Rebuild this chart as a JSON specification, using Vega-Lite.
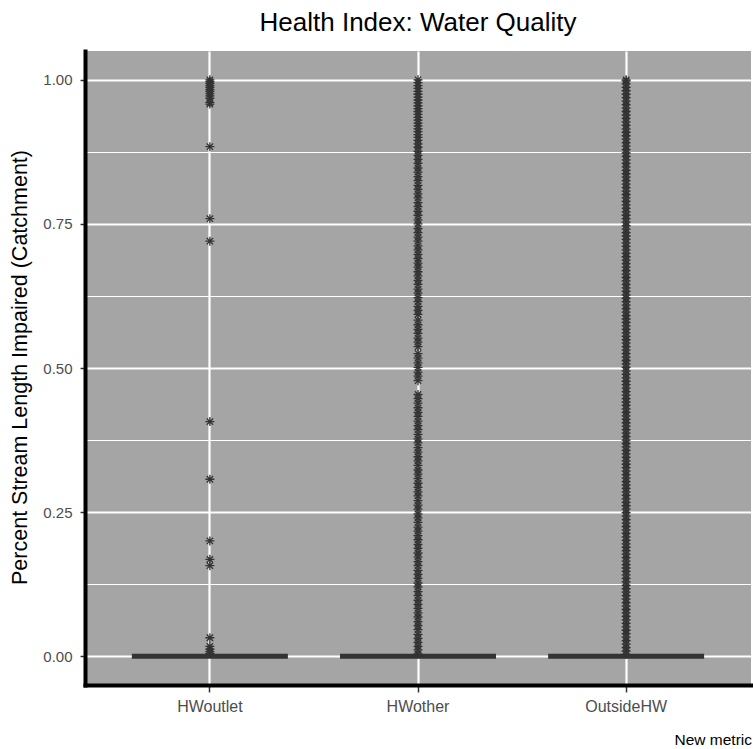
{
  "$schema": "https://vega.github.io/schema/vega-lite/v6.json",
  "width": 666,
  "height": 634,
  "autosize": {"type": "none"},
  "padding": {"left": 85, "top": 51, "right": 2, "bottom": 64},
  "background": "white",
  "title": {"text": "Health Index: Water Quality", "fontSize": 26, "font": "Liberation Sans", "fontWeight": "normal", "color": "black", "frame": "group", "anchor": "middle", "baseline": "alphabetic", "offset": -6},
  "config": {
    "font": "Liberation Sans",
    "view": {"fill": "#A5A5A5", "stroke": null},
    "axis": {"domainColor": "black", "domainWidth": 4, "domainCap": "square", "tickColor": "#333333", "tickWidth": 1.5, "labelColor": "#4D4D4D", "titleColor": "black", "titleFontWeight": "normal", "gridColor": "white", "labelFont": "Liberation Sans", "titleFont": "Liberation Sans"}
  },
  "datasets": {
    "boxes": [
      {"metric": "HWoutlet", "lower": 0, "median": 0, "upper": 0},
      {"metric": "HWother", "lower": 0, "median": 0, "upper": 0},
      {"metric": "OutsideHW", "lower": 0, "median": 0, "upper": 0}
    ],
    "outliers": [
      {"metric":"HWoutlet","value":1.0},{"metric":"HWoutlet","value":0.997},{"metric":"HWoutlet","value":0.994},{"metric":"HWoutlet","value":0.99},{"metric":"HWoutlet","value":0.987},{"metric":"HWoutlet","value":0.983},{"metric":"HWoutlet","value":0.98},{"metric":"HWoutlet","value":0.976},{"metric":"HWoutlet","value":0.972},{"metric":"HWoutlet","value":0.968},{"metric":"HWoutlet","value":0.961},{"metric":"HWoutlet","value":0.958},{"metric":"HWoutlet","value":0.884},{"metric":"HWoutlet","value":0.759},{"metric":"HWoutlet","value":0.72},{"metric":"HWoutlet","value":0.407},{"metric":"HWoutlet","value":0.307},{"metric":"HWoutlet","value":0.2},{"metric":"HWoutlet","value":0.168},{"metric":"HWoutlet","value":0.157},{"metric":"HWoutlet","value":0.032},{"metric":"HWoutlet","value":0.017},{"metric":"HWoutlet","value":0.012},{"metric":"HWoutlet","value":0.008},{"metric":"HWoutlet","value":0.005},
      {"metric":"HWother","value":0.004},{"metric":"HWother","value":0.011},{"metric":"HWother","value":0.017},{"metric":"HWother","value":0.024},{"metric":"HWother","value":0.031},{"metric":"HWother","value":0.038},{"metric":"HWother","value":0.046},{"metric":"HWother","value":0.053},{"metric":"HWother","value":0.06},{"metric":"HWother","value":0.068},{"metric":"HWother","value":0.075},{"metric":"HWother","value":0.083},{"metric":"HWother","value":0.09},{"metric":"HWother","value":0.097},{"metric":"HWother","value":0.105},{"metric":"HWother","value":0.112},{"metric":"HWother","value":0.12},{"metric":"HWother","value":0.127},{"metric":"HWother","value":0.135},{"metric":"HWother","value":0.142},{"metric":"HWother","value":0.149},{"metric":"HWother","value":0.157},{"metric":"HWother","value":0.164},{"metric":"HWother","value":0.172},{"metric":"HWother","value":0.179},{"metric":"HWother","value":0.187},{"metric":"HWother","value":0.194},{"metric":"HWother","value":0.202},{"metric":"HWother","value":0.209},{"metric":"HWother","value":0.217},{"metric":"HWother","value":0.224},{"metric":"HWother","value":0.232},{"metric":"HWother","value":0.24},{"metric":"HWother","value":0.247},{"metric":"HWother","value":0.255},{"metric":"HWother","value":0.262},{"metric":"HWother","value":0.27},{"metric":"HWother","value":0.278},{"metric":"HWother","value":0.285},{"metric":"HWother","value":0.293},{"metric":"HWother","value":0.3},{"metric":"HWother","value":0.308},{"metric":"HWother","value":0.316},{"metric":"HWother","value":0.323},{"metric":"HWother","value":0.331},{"metric":"HWother","value":0.339},{"metric":"HWother","value":0.346},{"metric":"HWother","value":0.354},{"metric":"HWother","value":0.362},{"metric":"HWother","value":0.37},{"metric":"HWother","value":0.377},{"metric":"HWother","value":0.385},{"metric":"HWother","value":0.393},{"metric":"HWother","value":0.4},{"metric":"HWother","value":0.408},{"metric":"HWother","value":0.416},{"metric":"HWother","value":0.423},{"metric":"HWother","value":0.431},{"metric":"HWother","value":0.439},{"metric":"HWother","value":0.447},{"metric":"HWother","value":0.454},
      {"metric":"HWother","value":0.478},{"metric":"HWother","value":0.486},{"metric":"HWother","value":0.493},{"metric":"HWother","value":0.501},{"metric":"HWother","value":0.509},{"metric":"HWother","value":0.517},{"metric":"HWother","value":0.525},
      {"metric":"HWother","value":0.537},{"metric":"HWother","value":0.545},{"metric":"HWother","value":0.552},{"metric":"HWother","value":0.56},{"metric":"HWother","value":0.567},{"metric":"HWother","value":0.575},{"metric":"HWother","value":0.583},
      {"metric":"HWother","value":0.593},{"metric":"HWother","value":0.6},{"metric":"HWother","value":0.607},{"metric":"HWother","value":0.615},{"metric":"HWother","value":0.622},{"metric":"HWother","value":0.63},{"metric":"HWother","value":0.637},{"metric":"HWother","value":0.645},{"metric":"HWother","value":0.652},{"metric":"HWother","value":0.66},{"metric":"HWother","value":0.667},{"metric":"HWother","value":0.675},{"metric":"HWother","value":0.682},{"metric":"HWother","value":0.69},{"metric":"HWother","value":0.697},{"metric":"HWother","value":0.705},{"metric":"HWother","value":0.712},{"metric":"HWother","value":0.72},{"metric":"HWother","value":0.727},{"metric":"HWother","value":0.735},{"metric":"HWother","value":0.742},{"metric":"HWother","value":0.75},{"metric":"HWother","value":0.757},{"metric":"HWother","value":0.765},{"metric":"HWother","value":0.772},{"metric":"HWother","value":0.78},{"metric":"HWother","value":0.787},{"metric":"HWother","value":0.795},{"metric":"HWother","value":0.802},{"metric":"HWother","value":0.81},{"metric":"HWother","value":0.817},{"metric":"HWother","value":0.825},{"metric":"HWother","value":0.832},{"metric":"HWother","value":0.84},{"metric":"HWother","value":0.847},{"metric":"HWother","value":0.855},{"metric":"HWother","value":0.862},{"metric":"HWother","value":0.869},{"metric":"HWother","value":0.876},{"metric":"HWother","value":0.883},{"metric":"HWother","value":0.889},{"metric":"HWother","value":0.895},{"metric":"HWother","value":0.9},{"metric":"HWother","value":0.905},{"metric":"HWother","value":0.91},{"metric":"HWother","value":0.915},{"metric":"HWother","value":0.92},{"metric":"HWother","value":0.925},{"metric":"HWother","value":0.93},{"metric":"HWother","value":0.935},{"metric":"HWother","value":0.94},{"metric":"HWother","value":0.945},{"metric":"HWother","value":0.95},{"metric":"HWother","value":0.955},{"metric":"HWother","value":0.96},{"metric":"HWother","value":0.965},{"metric":"HWother","value":0.97},{"metric":"HWother","value":0.975},{"metric":"HWother","value":0.98},{"metric":"HWother","value":0.985},{"metric":"HWother","value":0.99},{"metric":"HWother","value":0.995},{"metric":"HWother","value":1.0},
      {"metric":"OutsideHW","value":0.003},{"metric":"OutsideHW","value":0.009},{"metric":"OutsideHW","value":0.015},{"metric":"OutsideHW","value":0.021},{"metric":"OutsideHW","value":0.027},{"metric":"OutsideHW","value":0.033},{"metric":"OutsideHW","value":0.039},{"metric":"OutsideHW","value":0.045},{"metric":"OutsideHW","value":0.051},{"metric":"OutsideHW","value":0.057},{"metric":"OutsideHW","value":0.063},{"metric":"OutsideHW","value":0.069},{"metric":"OutsideHW","value":0.075},{"metric":"OutsideHW","value":0.081},{"metric":"OutsideHW","value":0.087},{"metric":"OutsideHW","value":0.093},{"metric":"OutsideHW","value":0.099},{"metric":"OutsideHW","value":0.105},{"metric":"OutsideHW","value":0.111},{"metric":"OutsideHW","value":0.117},{"metric":"OutsideHW","value":0.123},{"metric":"OutsideHW","value":0.129},{"metric":"OutsideHW","value":0.135},{"metric":"OutsideHW","value":0.141},{"metric":"OutsideHW","value":0.147},{"metric":"OutsideHW","value":0.153},{"metric":"OutsideHW","value":0.159},{"metric":"OutsideHW","value":0.165},{"metric":"OutsideHW","value":0.171},{"metric":"OutsideHW","value":0.177},{"metric":"OutsideHW","value":0.183},{"metric":"OutsideHW","value":0.189},{"metric":"OutsideHW","value":0.195},{"metric":"OutsideHW","value":0.201},{"metric":"OutsideHW","value":0.207},{"metric":"OutsideHW","value":0.213},{"metric":"OutsideHW","value":0.219},{"metric":"OutsideHW","value":0.225},{"metric":"OutsideHW","value":0.231},{"metric":"OutsideHW","value":0.237},{"metric":"OutsideHW","value":0.243},{"metric":"OutsideHW","value":0.249},{"metric":"OutsideHW","value":0.255},{"metric":"OutsideHW","value":0.261},{"metric":"OutsideHW","value":0.267},{"metric":"OutsideHW","value":0.273},{"metric":"OutsideHW","value":0.279},{"metric":"OutsideHW","value":0.285},{"metric":"OutsideHW","value":0.291},{"metric":"OutsideHW","value":0.297},{"metric":"OutsideHW","value":0.303},{"metric":"OutsideHW","value":0.309},{"metric":"OutsideHW","value":0.315},{"metric":"OutsideHW","value":0.321},{"metric":"OutsideHW","value":0.327},{"metric":"OutsideHW","value":0.333},{"metric":"OutsideHW","value":0.339},{"metric":"OutsideHW","value":0.345},{"metric":"OutsideHW","value":0.351},{"metric":"OutsideHW","value":0.357},{"metric":"OutsideHW","value":0.363},{"metric":"OutsideHW","value":0.369},{"metric":"OutsideHW","value":0.375},{"metric":"OutsideHW","value":0.381},{"metric":"OutsideHW","value":0.387},{"metric":"OutsideHW","value":0.393},{"metric":"OutsideHW","value":0.399},{"metric":"OutsideHW","value":0.405},{"metric":"OutsideHW","value":0.411},{"metric":"OutsideHW","value":0.417},{"metric":"OutsideHW","value":0.423},{"metric":"OutsideHW","value":0.429},{"metric":"OutsideHW","value":0.435},{"metric":"OutsideHW","value":0.441},{"metric":"OutsideHW","value":0.447},{"metric":"OutsideHW","value":0.453},{"metric":"OutsideHW","value":0.459},{"metric":"OutsideHW","value":0.465},{"metric":"OutsideHW","value":0.471},{"metric":"OutsideHW","value":0.477},{"metric":"OutsideHW","value":0.483},{"metric":"OutsideHW","value":0.489},{"metric":"OutsideHW","value":0.495},{"metric":"OutsideHW","value":0.501},{"metric":"OutsideHW","value":0.507},{"metric":"OutsideHW","value":0.513},{"metric":"OutsideHW","value":0.519},{"metric":"OutsideHW","value":0.525},{"metric":"OutsideHW","value":0.531},{"metric":"OutsideHW","value":0.537},{"metric":"OutsideHW","value":0.543},{"metric":"OutsideHW","value":0.549},{"metric":"OutsideHW","value":0.555},{"metric":"OutsideHW","value":0.561},{"metric":"OutsideHW","value":0.567},{"metric":"OutsideHW","value":0.573},{"metric":"OutsideHW","value":0.579},{"metric":"OutsideHW","value":0.585},{"metric":"OutsideHW","value":0.591},{"metric":"OutsideHW","value":0.597},{"metric":"OutsideHW","value":0.603},{"metric":"OutsideHW","value":0.609},{"metric":"OutsideHW","value":0.615},{"metric":"OutsideHW","value":0.621},{"metric":"OutsideHW","value":0.627},{"metric":"OutsideHW","value":0.633},{"metric":"OutsideHW","value":0.639},{"metric":"OutsideHW","value":0.645},{"metric":"OutsideHW","value":0.651},{"metric":"OutsideHW","value":0.657},{"metric":"OutsideHW","value":0.663},{"metric":"OutsideHW","value":0.669},{"metric":"OutsideHW","value":0.675},{"metric":"OutsideHW","value":0.681},{"metric":"OutsideHW","value":0.687},{"metric":"OutsideHW","value":0.693},{"metric":"OutsideHW","value":0.699},{"metric":"OutsideHW","value":0.705},{"metric":"OutsideHW","value":0.711},{"metric":"OutsideHW","value":0.717},{"metric":"OutsideHW","value":0.723},{"metric":"OutsideHW","value":0.729},{"metric":"OutsideHW","value":0.735},{"metric":"OutsideHW","value":0.741},{"metric":"OutsideHW","value":0.747},{"metric":"OutsideHW","value":0.753},{"metric":"OutsideHW","value":0.759},{"metric":"OutsideHW","value":0.765},{"metric":"OutsideHW","value":0.771},{"metric":"OutsideHW","value":0.777},{"metric":"OutsideHW","value":0.783},{"metric":"OutsideHW","value":0.789},{"metric":"OutsideHW","value":0.795},{"metric":"OutsideHW","value":0.801},{"metric":"OutsideHW","value":0.807},{"metric":"OutsideHW","value":0.813},{"metric":"OutsideHW","value":0.819},{"metric":"OutsideHW","value":0.825},{"metric":"OutsideHW","value":0.831},{"metric":"OutsideHW","value":0.837},{"metric":"OutsideHW","value":0.843},{"metric":"OutsideHW","value":0.849},{"metric":"OutsideHW","value":0.855},{"metric":"OutsideHW","value":0.861},{"metric":"OutsideHW","value":0.867},{"metric":"OutsideHW","value":0.873},{"metric":"OutsideHW","value":0.879},{"metric":"OutsideHW","value":0.885},{"metric":"OutsideHW","value":0.891},{"metric":"OutsideHW","value":0.897},{"metric":"OutsideHW","value":0.903},{"metric":"OutsideHW","value":0.909},{"metric":"OutsideHW","value":0.915},{"metric":"OutsideHW","value":0.921},{"metric":"OutsideHW","value":0.927},{"metric":"OutsideHW","value":0.933},{"metric":"OutsideHW","value":0.939},{"metric":"OutsideHW","value":0.945},{"metric":"OutsideHW","value":0.951},{"metric":"OutsideHW","value":0.957},{"metric":"OutsideHW","value":0.963},{"metric":"OutsideHW","value":0.969},{"metric":"OutsideHW","value":0.975},{"metric":"OutsideHW","value":0.981},{"metric":"OutsideHW","value":0.987},{"metric":"OutsideHW","value":0.993},{"metric":"OutsideHW","value":0.998},{"metric":"OutsideHW","value":1.0}
    ]
  },
  "encoding": {
    "x": {
      "field": "metric", "type": "nominal",
      "scale": {"type": "band", "domain": ["HWoutlet", "HWother", "OutsideHW"], "paddingInner": 0.25, "paddingOuter": 0.225},
      "axis": {"title": "New metric", "titleFontSize": 15.5, "titleAnchor": "end", "titleAlign": "right", "titleBaseline": "alphabetic", "titleX": 666.5, "titleY": 59.5, "labelFontSize": 16, "labelAngle": 0, "labelBaseline": "alphabetic", "labelPadding": 19, "tickSize": 7, "grid": true, "gridWidth": 2.2, "bandPosition": 0.5}
    }
  },
  "layer": [
    {
      "data": {"name": "boxes"},
      "mark": {"type": "tick", "orient": "horizontal", "thickness": 5, "size": 156, "color": "#333333", "opacity": 1},
      "encoding": {
        "y": {"field": "median", "type": "quantitative", "title": "Percent Stream Length Impaired (Catchment)", "scale": {"domain": [-0.05, 1.05], "nice": false, "zero": false}}
      }
    },
    {
      "data": {"name": "outliers"},
      "mark": {"type": "point", "shape": "M-1,0H1M0,-1V1M-0.707,-0.707L0.707,0.707M-0.707,0.707L0.707,-0.707", "filled": false, "stroke": "#333333", "strokeWidth": 1.3, "size": 81, "opacity": 1},
      "encoding": {
        "y": {
          "field": "value", "type": "quantitative",
          "scale": {"domain": [-0.05, 1.05], "nice": false, "zero": false},
          "title": "Percent Stream Length Impaired (Catchment)",
          "axis": {
            "values": [0, 0.125, 0.25, 0.375, 0.5, 0.625, 0.75, 0.875, 1],
            "labelExpr": "datum.value * 4 == floor(datum.value * 4) ? format(datum.value, '.2f') : ''",
            "labelFontSize": 15, "labelPadding": 8, "tickSize": 5,
            "tickOpacity": {"condition": {"test": "datum.value * 4 != floor(datum.value * 4)", "value": 0}, "value": 1},
            "grid": true,
            "gridWidth": {"condition": {"test": "datum.value * 4 != floor(datum.value * 4)", "value": 1.1}, "value": 2.2},
            "titleFontSize": 21.5, "titleBaseline": "alphabetic", "titleX": -58.3, "titleY": 316
          }
        }
      }
    }
  ]
}
